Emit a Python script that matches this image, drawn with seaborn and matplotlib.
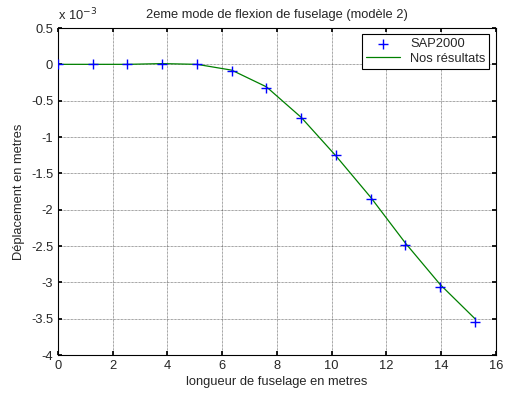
import matplotlib
matplotlib.use("Agg")
import matplotlib.pyplot as plt
import seaborn as sns
import pandas as pd
import numpy as np

x_pos = [0, 1.27, 2.54, 3.81, 5.08, 6.35, 7.62, 8.89, 10.16, 11.43, 12.70, 13.97, 15.24]
sap2000 = [0, 0, 0, 0.01, 0, -0.09, -0.33, -0.74, -1.25, -1.85, -2.48, -3.06, -3.55]
nos_resultats = [0, 0, 0, 0.01, 0, -0.08, -0.31, -0.73, -1.26, -1.83, -2.46, -3.03, -3.50]

sns.set_theme(style="white")
plt.rcParams['font.family'] = ['Liberation Sans', 'DejaVu Sans']

df_sap = pd.DataFrame({"x": x_pos, "y": np.array(sap2000) * 1e-3})
df_nos = pd.DataFrame({"x": x_pos, "y": np.array(nos_resultats) * 1e-3})

fig = plt.figure(figsize=(5.07, 3.96), dpi=100)
ax = fig.add_axes([58/507, 1 - 355/396, (495.7 - 58)/507, (355 - 28)/396])

sns.scatterplot(data=df_sap, x="x", y="y", ax=ax, marker="+", s=55,
                color="blue", linewidth=1.0, label="SAP2000", zorder=3)
sns.lineplot(data=df_nos, x="x", y="y", ax=ax, color="green", linewidth=0.9,
             label="Nos résultats", zorder=2)

ax.set_xlim(0, 16)
ax.set_ylim(-4e-3, 0.5e-3)
ax.set_xticks(np.arange(0, 17, 2))
yt = np.arange(-4, 0.51, 0.5)
ax.set_yticks(yt * 1e-3)
ax.set_yticklabels([f"{v:g}" for v in yt])
ax.grid(True, color="black", linestyle=(0, (1, 1)), linewidth=0.5, alpha=0.7)
ax.tick_params(direction="in", labelsize=9.3, length=3, color="black",
               top=True, right=True, bottom=True, left=True)
for s in ax.spines.values():
    s.set_color("black")
    s.set_linewidth(0.8)

ax.set_title("2eme mode de flexion de fuselage (modèle 2)", fontsize=9.3, pad=7)
ax.set_xlabel("longueur de fuselage en metres", fontsize=9.3, labelpad=3)
ax.set_ylabel("Déplacement en metres", fontsize=9.3, labelpad=4)
ax.text(0.0, 1.015, r"x 10$^{-3}$", transform=ax.transAxes, fontsize=9.3,
        ha="left", va="bottom")

leg = ax.legend(loc="upper right", fontsize=9.3, frameon=True, fancybox=False,
                edgecolor="black", framealpha=1, borderpad=0.3,
                handlelength=2.6, labelspacing=0.2, borderaxespad=0.5)
leg.get_frame().set_linewidth(0.8)

fig.savefig("out.png", dpi=100)
